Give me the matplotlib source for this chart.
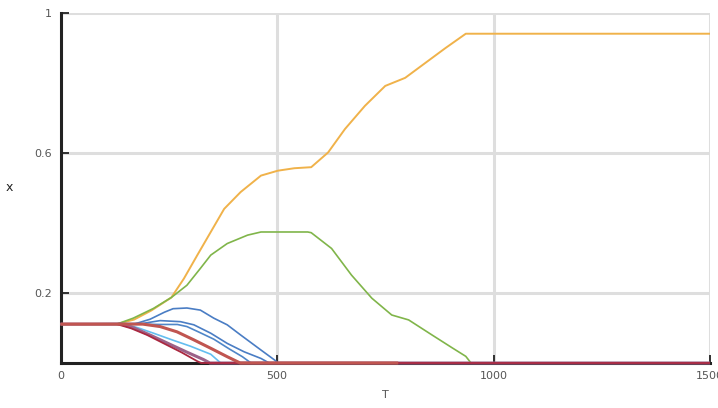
import matplotlib
matplotlib.use("Agg")
import matplotlib.pyplot as plt

# ---- data ----
orange_t = [0, 130, 170, 210, 256, 285, 316, 347, 378, 416, 463, 502, 540, 579, 618, 657, 703, 750, 796, 843, 889, 936, 1500]
orange_y = [.111, .111, .124, .150, .187, .241, .308, .374, .440, .488, .535, .549, .556, .559, .601, .668, .734, .791, .814, .857, .899, .940, .940]

green_t = [0, 130, 168, 215, 256, 292, 323, 347, 385, 432, 463, 571, 579, 626, 672, 719, 765, 804, 858, 905, 936, 948, 1500]
green_y = [.111, .111, .128, .156, .187, .222, .270, .308, .341, .365, .374, .374, .372, .327, .251, .185, .137, .123, .080, .043, .019, 0, 0]

blue1_t = [0, 170, 207, 240, 260, 292, 323, 354, 385, 416, 463, 495, 502, 1500]
blue1_y = [.111, .111, .125, .145, .155, .157, .151, .128, .109, .080, .037, .008, 0, 0]

blue2_t = [0, 190, 230, 277, 308, 347, 385, 424, 463, 482, 1500]
blue2_y = [.111, .113, .121, .118, .109, .085, .056, .032, .013, 0, 0]

blue3_t = [0, 180, 230, 270, 292, 320, 354, 390, 420, 440, 1500]
blue3_y = [.111, .111, .110, .110, .104, .088, .068, .040, .018, 0, 0]

sky_t = [0, 150, 180, 215, 260, 300, 347, 370, 1500]
sky_y = [.111, .111, .100, .085, .065, .048, .025, 0, 0]

purple_t = [0, 140, 170, 210, 250, 290, 330, 345, 1500]
purple_y = [.111, .111, .100, .078, .055, .032, .010, 0, 0]

darkred_t = [0, 130, 163, 200, 240, 280, 316, 325, 1500]
darkred_y = [.111, .111, .099, .080, .055, .030, .005, 0, 0]

red_t = [0, 190, 230, 269, 308, 347, 385, 415, 780]
red_y = [.111, .111, .104, .089, .066, .042, .018, 0, 0]

x_ticks = [0, 500, 1000, 1500]
x_tick_labels = ["0", "500", "1000", "1500"]
y_ticks = [0.2, 0.6, 1.0]
y_tick_labels = ["0.2", "0.6", "1"]

# ---- figure ----
fig = plt.figure(figsize=(7.18, 4.08), dpi=100)
ax = fig.add_axes([60.5 / 718, 1 - 363 / 408, (710 - 60.5) / 718, (363 - 12.7) / 408])

ax.set_xlim(0, 1500)
ax.set_ylim(0, 1)

ax.grid(True, color="#dedede", linewidth=2.2, zorder=0)
ax.set_axisbelow(True)

series = [
    (orange_t, orange_y, "#f0b24a", 1.4),
    (green_t, green_y, "#80b54a", 1.2),
    (blue1_t, blue1_y, "#4a7dc4", 1.2),
    (blue2_t, blue2_y, "#4a7dc4", 1.2),
    (blue3_t, blue3_y, "#4f86c8", 1.2),
    (sky_t, sky_y, "#64bef0", 1.2),
    (purple_t, purple_y, "#9c6288", 2.2),
    (darkred_t, darkred_y, "#aa2840", 1.3),
    (red_t, red_y, "#c05550", 2.2),
]
for t, y, c, lw in series:
    ax.plot(t, y, color=c, linewidth=lw, zorder=3, clip_on=False, solid_capstyle="butt")

for s in ["top", "right"]:
    ax.spines[s].set_visible(False)
for s in ["left", "bottom"]:
    ax.spines[s].set_color("#222222")
    ax.spines[s].set_linewidth(2.2)
    ax.spines[s].set_zorder(2)

ax.set_xticks(x_ticks)
ax.set_xticklabels(x_tick_labels)
ax.set_yticks(y_ticks)
ax.set_yticklabels(y_tick_labels)
ax.tick_params(direction="in", length=6, width=1.3, color="#222222",
               labelsize=8, labelcolor="#555555", pad=6)

ax.set_xlabel("T", fontsize=8, color="#555555", labelpad=6)
ax.set_ylabel("x", fontsize=9, color="#222222", rotation=0, labelpad=18, va="center")

fig.savefig("out.png", dpi=100)
